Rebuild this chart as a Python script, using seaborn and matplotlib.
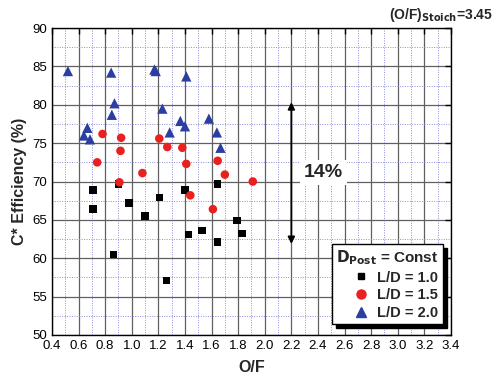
import matplotlib
matplotlib.use("Agg")
import matplotlib.pyplot as plt
import seaborn as sns
import pandas as pd
import numpy as np
from matplotlib.ticker import MultipleLocator
from matplotlib.lines import Line2D

# Data
sq_x = [0.707, 0.707, 0.90, 0.98, 1.10, 0.862, 1.209, 1.262, 1.40, 1.428, 1.53, 1.645, 1.645, 1.79, 1.83]
sq_y = [68.9, 66.4, 69.7, 67.2, 65.5, 60.5, 67.9, 57.1, 68.9, 63.1, 63.6, 69.7, 62.1, 64.9, 63.2]
ci_x = [0.74, 0.78, 0.92, 0.915, 0.907, 1.08, 1.207, 1.267, 1.38, 1.41, 1.44, 1.61, 1.646, 1.70, 1.91]
ci_y = [72.5, 76.2, 75.7, 74.0, 69.9, 71.1, 75.6, 74.5, 74.4, 72.3, 68.2, 66.4, 72.7, 70.9, 70.0]
tr_x = [0.52, 0.666, 0.64, 0.686, 0.845, 0.87, 0.85, 1.17, 1.18, 1.23, 1.285, 1.365, 1.40, 1.41, 1.58, 1.64, 1.667]
tr_y = [84.4, 77.0, 76.0, 75.5, 84.2, 80.2, 78.7, 84.6, 84.4, 79.5, 76.4, 77.9, 77.2, 83.7, 78.2, 76.4, 74.4]
series = ["L/D = 1.0", "L/D = 1.5", "L/D = 2.0"]
x_ticks = [0.4 + 0.2 * i for i in range(16)]
y_ticks = [50, 55, 60, 65, 70, 75, 80, 85, 90]

df = pd.DataFrame({
    "OF": sq_x + ci_x + tr_x,
    "eff": sq_y + ci_y + tr_y,
    "grp": [series[0]] * len(sq_x) + [series[1]] * len(ci_x) + [series[2]] * len(tr_x),
})

sns.set_style("white")
plt.rcParams['font.family'] = ['Liberation Sans', 'DejaVu Sans']

fig = plt.figure(figsize=(4.95, 3.85), dpi=100)
ax = fig.add_axes([0.105, 0.13, 0.806, 0.797])

colors = {series[0]: "#000000", series[1]: "#e8201f", series[2]: "#2b3fa3"}
markers = {series[0]: "s", series[1]: "o", series[2]: "^"}
sizes = {series[0]: 30, series[1]: 38, series[2]: 55}

for g in series:
    sub = df[df.grp == g]
    sns.scatterplot(data=sub, x="OF", y="eff", ax=ax, color=colors[g], marker=markers[g],
                    s=sizes[g], edgecolor="none", linewidth=0, legend=False, zorder=3)

ax.set_xlim(0.4, 3.4)
ax.set_ylim(50, 90)
ax.set_xticks(x_ticks)
ax.set_xticklabels([f"{v:.1f}" for v in x_ticks])
ax.set_yticks(y_ticks)
ax.xaxis.set_minor_locator(MultipleLocator(0.1))
ax.yaxis.set_minor_locator(MultipleLocator(2.5))
ax.grid(True, which="major", color="#606060", lw=0.9, ls="-", zorder=0)
ax.grid(True, which="minor", color="#8c8cdc", lw=0.7, ls=(0, (1, 1.5)), zorder=0)
ax.set_axisbelow(True)
ax.tick_params(which="major", direction="in", length=4, width=1.0, top=True, right=True,
               labelsize=9.5, colors="black")
ax.tick_params(which="minor", length=0)
for s in ax.spines.values():
    s.set_color("black")
    s.set_linewidth(1.0)

ax.set_xlabel("O/F", fontsize=11.5, fontweight="bold", labelpad=6)
ax.set_ylabel("C* Efficiency (%)", fontsize=11.5, fontweight="bold", labelpad=4)

# Arrow and annotation
ax.annotate("", xy=(2.2, 80.7), xytext=(2.2, 61.5),
            arrowprops=dict(arrowstyle="<|-|>", color="black", lw=1.3, mutation_scale=10), zorder=4)
ax.text(2.44, 71.2, "14%", fontsize=14, fontweight="bold", ha="center", va="center",
        bbox=dict(facecolor="white", edgecolor="none", pad=3), zorder=5)

fig.text(0.995, 0.985, r"(O/F)$_{\mathbf{Stoich}}$=3.45", fontsize=10, fontweight="bold",
         ha="right", va="top")

handles = [Line2D([], [], ls="none", marker=markers[g], color=colors[g],
                  markersize={"s": 5, "o": 6.5, "^": 7}[markers[g]]) for g in series]
leg = ax.legend(handles, series, loc="lower right", title=r"$\mathbf{D_{Post}}$ = Const",
                prop={"weight": "bold", "size": 10.5}, title_fontproperties={"weight": "bold", "size": 11},
                frameon=True, fancybox=False, edgecolor="black", framealpha=1,
                shadow={"color": "black", "alpha": 1, "ox": 3, "oy": -3},
                handletextpad=0.5, labelspacing=0.25, borderpad=0.3,
                handlelength=1.3, bbox_to_anchor=(0.98, 0.035), borderaxespad=0)
leg.get_frame().set_linewidth(1.0)
leg._legend_box.align = "right"

fig.savefig("out.png", dpi=100)
